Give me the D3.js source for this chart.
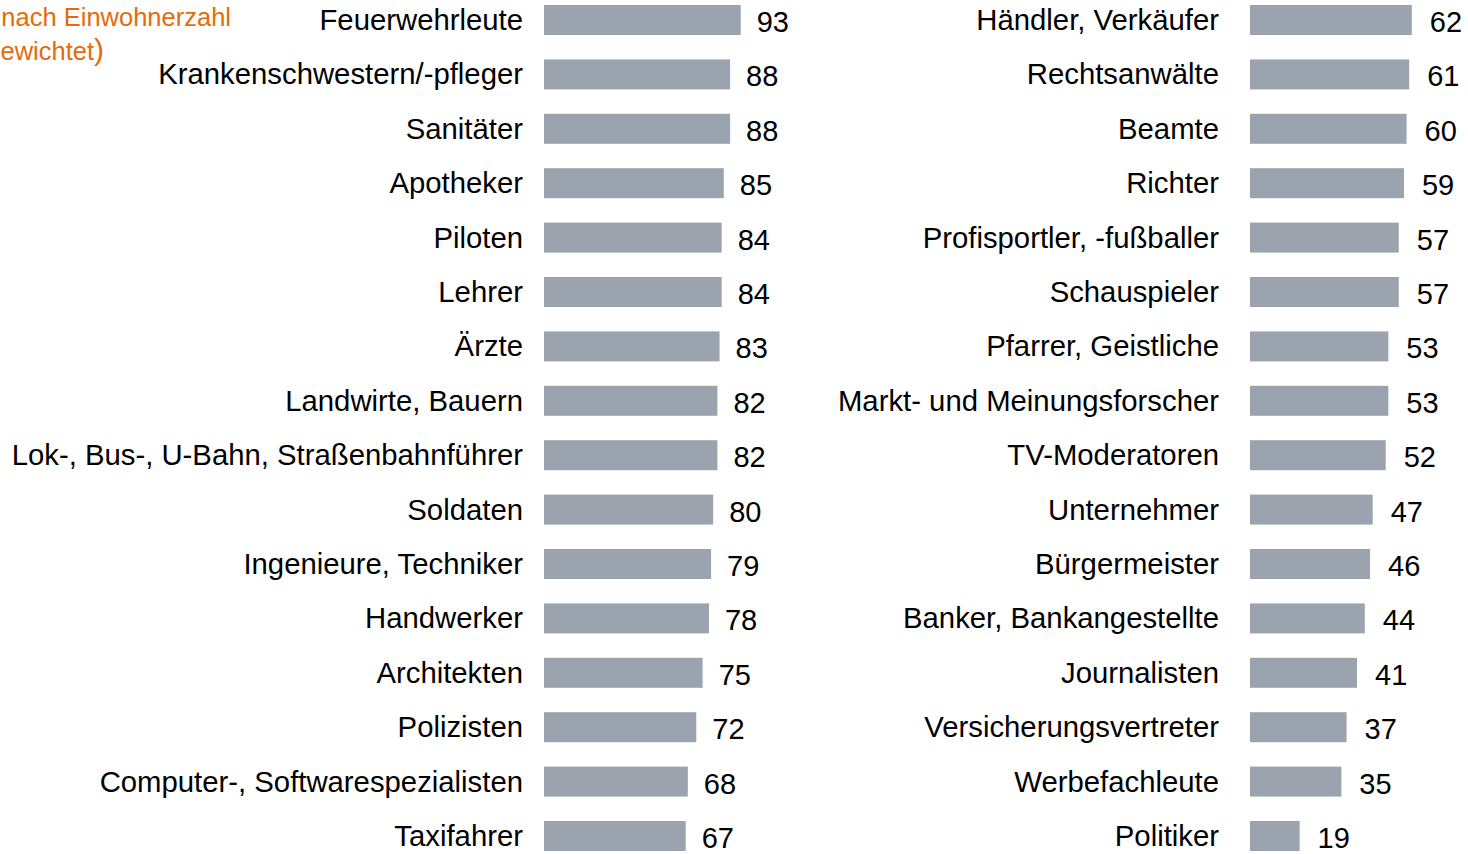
<!DOCTYPE html>
<html>
<head>
<meta charset="utf-8">
<title>Berufe</title>
<script src="https://d3js.org/d3.v7.min.js"></script>
<style>
body { margin: 0; background: #fff; overflow: hidden; }
text { font-family: "Liberation Sans", Arial, Helvetica, sans-serif; }
</style>
</head>
<body>
<div id="chart"></div>
<script>
// linke Spalte
var leftCats = ["Feuerwehrleute", "Krankenschwestern/-pfleger", "Sanitäter", "Apotheker", "Piloten", "Lehrer",
	"Ärzte", "Landwirte, Bauern", "Lok-, Bus-, U-Bahn, Straßenbahnführer", "Soldaten", "Ingenieure, Techniker",
	"Handwerker", "Architekten", "Polizisten", "Computer-, Softwarespezialisten", "Taxifahrer"];
var leftVals = [93, 88, 88, 85, 84, 84, 83, 82, 82, 80, 79, 78, 75, 72, 68, 67];

// rechte Spalte
var rightCats = ["Händler, Verkäufer", "Rechtsanwälte", "Beamte", "Richter", "Profisportler, -fußballer",
	"Schauspieler", "Pfarrer, Geistliche", "Markt- und Meinungsforscher", "TV-Moderatoren", "Unternehmer",
	"Bürgermeister", "Banker, Bankangestellte", "Journalisten", "Versicherungsvertreter", "Werbefachleute", "Politiker"];
var rightVals = [62, 61, 60, 59, 57, 57, 53, 53, 52, 47, 46, 44, 41, 37, 35, 19];

var noteLines = ["nach Einwohnerzahl", "gewichtet"];

var width = 1468, height = 854;
var barColor = "#9ba4ae";
var orange = "#e46c0a";

var svg = d3.select("#chart").append("svg")
	.attr("width", width)
	.attr("height", height);

// zeilen
var y = d3.scalePoint()
	.domain(d3.range(16))
	.range([20, 20 + 15 * 54.4]);
var barH = 30;

function panel(cats, vals, x0, pxPer100, gap, labelGap) {
	var x = d3.scaleLinear().domain([0, 100]).range([x0, x0 + pxPer100]);
	var g = svg.append("g");

	g.selectAll("rect")
		.data(vals)
	  .enter().append("rect")
		.attr("x", x(0))
		.attr("y", function(d, i) { return y(i) - barH / 2; })
		.attr("width", function(d) { return x(d) - x(0); })
		.attr("height", barH)
		.attr("fill", barColor);

	g.selectAll(".cat")
		.data(cats)
	  .enter().append("text")
		.attr("class", "cat")
		.attr("x", x0 - labelGap)
		.attr("y", function(d, i) { return y(i) + 10; })
		.attr("text-anchor", "end")
		.style("font-size", "29.3px")
		.attr("fill", "#000")
		.text(function(d) { return d; });

	g.selectAll(".val")
		.data(vals)
	  .enter().append("text")
		.attr("class", "val")
		.attr("x", function(d) { return x(d) + gap; })
		.attr("y", function(d, i) { return y(i) + 12; })
		.style("font-size", "29px")
		.attr("fill", "#000")
		.text(function(d) { return d; });
}

panel(leftCats, leftVals, 544, 211.5, 16, 21);
panel(rightCats, rightVals, 1250, 261, 18, 31);

// Hinweis oben links (abgeschnitten wie im Original)
svg.append("text")
	.attr("x", 231).attr("y", 26)
	.attr("text-anchor", "end")
	.style("font-size", "25.5px")
	.attr("fill", orange)
	.text(noteLines[0]);

var t2 = svg.append("text")
	.attr("x", 104).attr("y", 60)
	.attr("text-anchor", "end")
	.style("font-size", "25.5px")
	.attr("fill", orange);
t2.append("tspan").text(noteLines[1]);
t2.append("tspan").style("font-size", "30px").text(")");
</script>
</body>
</html>
